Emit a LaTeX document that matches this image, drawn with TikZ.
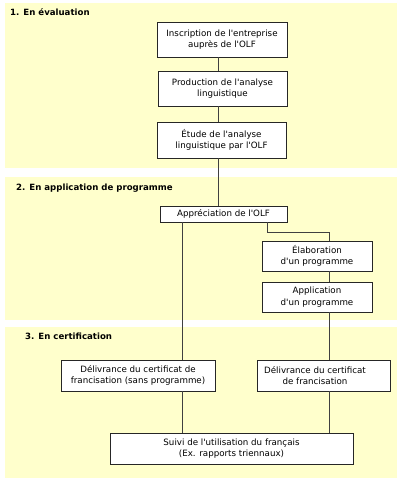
\documentclass[tikz,border=0pt]{standalone}
\usepackage{fontspec}
\setmainfont{DejaVu Sans}
\newcommand\ap{\textquotesingle}
\begin{document}
\begin{tikzpicture}[x=1pt,y=-1pt,
  band/.style={fill=bandyellow,draw=none},
  title/.style={anchor=west,font=\fontsize{8.6}{10}\selectfont\bfseries,inner sep=0pt},
  box/.style={draw=black!85,line width=0.9pt,fill=white,align=center,font=\fontsize{8.7}{11.3}\selectfont,inner sep=0pt},
  link/.style={draw=black!75,line width=0.9pt}]
\definecolor{bandyellow}{HTML}{FFFFCC}
\useasboundingbox (0,0) rectangle (400,480);
\fill[white] (0,0) rectangle (400,480);
% bands
\path[band] (5,3) rectangle (397,168);
\path[band] (5,177) rectangle (397,320);
\path[band] (5,327) rectangle (397,478);
\node[title] (t1) at (10,12) {1. En évaluation};
\node[title] (t2) at (16,188) {2. En application de programme};
\node[title] (t3) at (25,336) {3. En certification};
% boxes
\node[box,minimum width=130,minimum height=35] (A) at (222,39.5) {Inscription de l\ap entreprise\\auprès de l\ap OLF};
\node[box,minimum width=129,minimum height=35] (B) at (222.5,88.5) {Production de l\ap analyse\\linguistique};
\node[box,minimum width=129,minimum height=36] (C) at (221.5,140) {Étude de l\ap analyse\\linguistique par l\ap OLF};
\node[box,minimum width=127,minimum height=16] (D) at (223.5,214) {Appréciation de l\ap OLF};
\node[box,minimum width=110,minimum height=30] (E) at (317,256) {Élaboration\\d\ap un programme};
\node[box,minimum width=110,minimum height=30] (E2) at (317,297) {Application\\d\ap un programme};
\node[box,minimum width=154,minimum height=31] (F) at (138,375.5) {Délivrance du certificat de\\francisation (sans programme)};
\node[box,minimum width=133,minimum height=31] (G) at (323.5,375.5) {Délivrance du certificat\hspace*{17pt}\\de francisation\hspace*{17pt}};
\node[box,minimum width=243,minimum height=31] (H) at (231.5,448.5) {Suivi de l\ap utilisation du français\\(Ex. rapports triennaux)};
% helper x positions
\coordinate (xm) at (218,0);
\coordinate (xl) at (182,0);
\coordinate (xr) at (329,0);
\coordinate (xd) at (267,0);
\coordinate (bend) at (267,232);
% connectors
\draw[link] (A.south -| xm) -- (B.north -| xm);
\draw[link] (B.south -| xm) -- (C.north -| xm);
\draw[link] (C.south -| xm) -- (D.north -| xm);
\draw[link] (D.south -| xl) -- (F.north -| xl);
\draw[link] (D.south -| xd) -- (bend) -| (E.north -| xr);
\draw[link] (E.south -| xr) -- (E2.north -| xr);
\draw[link] (E2.south -| xr) -- (G.north -| xr);
\draw[link] (F.south -| xl) -- (H.north -| xl);
\draw[link] (G.south -| xr) -- (H.north -| xr);
\end{tikzpicture}
\end{document}
